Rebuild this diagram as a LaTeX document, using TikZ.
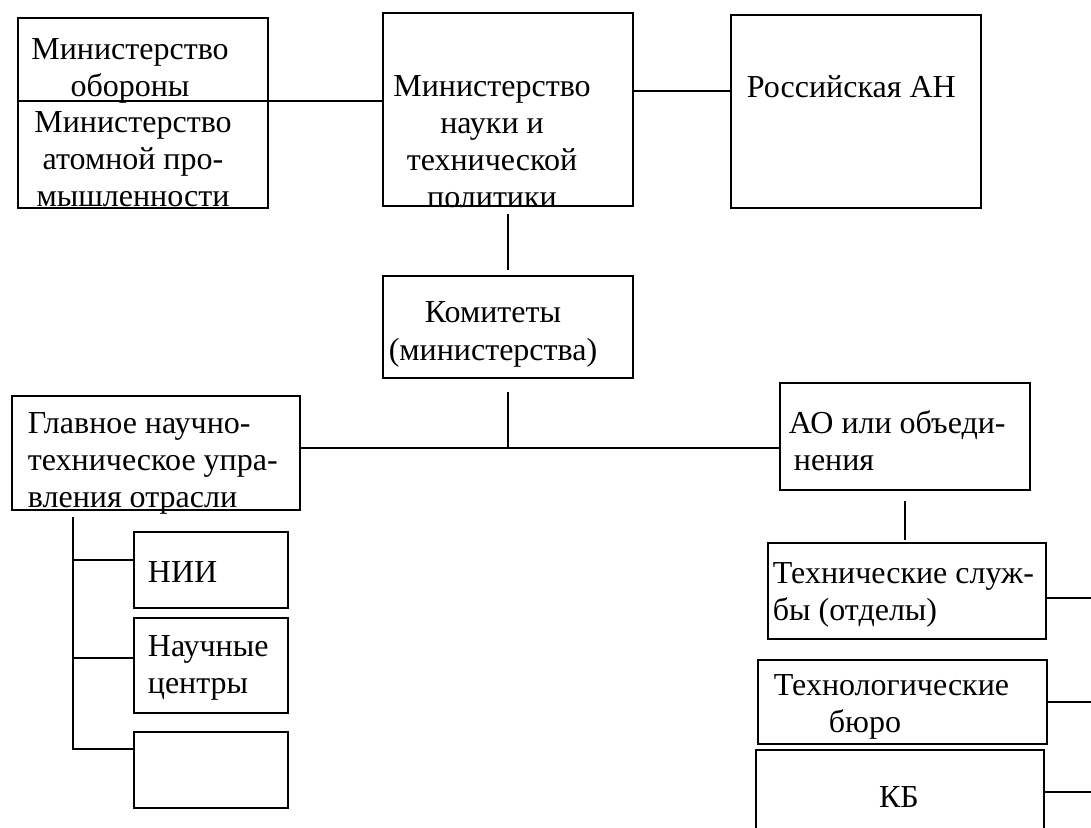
\documentclass[tikz,border=0pt]{standalone}
\usepackage{fontspec}
\setmainfont{Liberation Serif}
\tikzset{
  blok/.style={draw, inner sep=0pt, anchor=north west},
  txt/.style={inner sep=0pt, font=\fontsize{16}{18.5}\selectfont},
}
\begin{document}
\begin{tikzpicture}[x=0.5pt, y=-0.5pt, line width=0.9pt]
\useasboundingbox (0,0) rectangle (1091,828);
\clip (0,0) rectangle (1091,828);
\def \kw{125pt};
% boxes
\node[blok, minimum width=\kw, minimum height=95pt] (mo) at (17,17) {};
\node[blok, minimum width=\kw, minimum height=96.5pt] (mnt) at (382,12) {};
\node[blok, minimum width=\kw, minimum height=96.5pt] (ran) at (730,14) {};
\node[blok, minimum width=\kw, minimum height=51pt] (kom) at (382,275) {};
\node[blok, minimum width=144pt, minimum height=57pt] (gnt) at (11,395) {};
\node[blok, minimum width=77pt, minimum height=38pt] (nii) at (133,531) {};
\node[blok, minimum width=77pt, minimum height=47.5pt] (nc) at (133,617) {};
\node[blok, minimum width=77pt, minimum height=38pt] (pust) at (133,731) {};
\node[blok, minimum width=\kw, minimum height=53.5pt] (ao) at (779,382) {};
\node[blok, minimum width=139pt, minimum height=48pt] (ts) at (767,542) {};
\node[blok, minimum width=144.5pt, minimum height=42pt] (tb) at (757,659) {};
\node[blok, minimum width=144pt, minimum height=42pt] (kb) at (755,749) {};
% texts (base = last line)
\node[txt, align=center, anchor=base] (tmo1) at (130,97) {Министерство\\обороны};
\node[txt, align=center, anchor=base] (tmo2) at (133,207) {Министерство\\атомной про-\\мышленности};
\node[txt, align=center, anchor=base] (tmnt) at (492,208) {Министерство\\науки и\\технической\\политики};
\node[txt, anchor=base west] (tran) at (746,98) {Российская АН};
\node[txt, align=center, anchor=base] (tkom) at (493,360) {Комитеты\\(министерства)};
\node[txt, align=left, anchor=base west] (tgnt) at (27,507) {Главное научно-\\техническое упра-\\вления отрасли};
\node[txt, anchor=base west] (tnii) at (147,582) {НИИ};
\node[txt, align=left, anchor=base west] (tnc) at (147,693) {Научные\\центры};
\node[txt, align=left, anchor=base west] (tao) at (788,470) {АО или объеди-\\\hspace*{2.5pt}нения};
\node[txt, align=left, anchor=base west] (tts) at (772,620) {Технические служ-\\бы (отделы)};
\node[txt, align=left, anchor=base west] (ttb) at (773,732) {Технологические\\\hspace*{27.5pt}бюро};
\node[txt, anchor=base] (tkb) at (899,807) {КБ};
% connectors
\coordinate (s1) at (19,101);
\draw (s1) -- (s1 -| mnt.west);
\draw (mnt.east |- 0,91) -- (ran.west |- 0,91);
\draw ([yshift=-3.5pt]mnt.south) -- ([yshift=2.5pt]kom.north);
\coordinate (shina) at (507,448);
\draw ([yshift=-6.5pt]kom.south) -- (kom.south |- shina);
\draw (gnt.east |- shina) -- (ao.west |- shina);
\coordinate (stvol) at (73,517);
\draw (stvol) -- (stvol |- 0,749) -- (pust.west |- 0,749);
\draw (stvol |- 0,560) -- (nii.west |- 0,560);
\draw (stvol |- 0,658) -- (nc.west |- 0,658);
\draw ([yshift=-5pt]ao.south) -- ++(0,39);
\coordinate (kraj) at (1091,0);
\draw (ts.east |- 0,598) -- (kraj |- 0,598);
\draw (tb.east) -- (tb.east -| kraj);
\draw (kb.east) -- (kb.east -| kraj);
\end{tikzpicture}
\end{document}
